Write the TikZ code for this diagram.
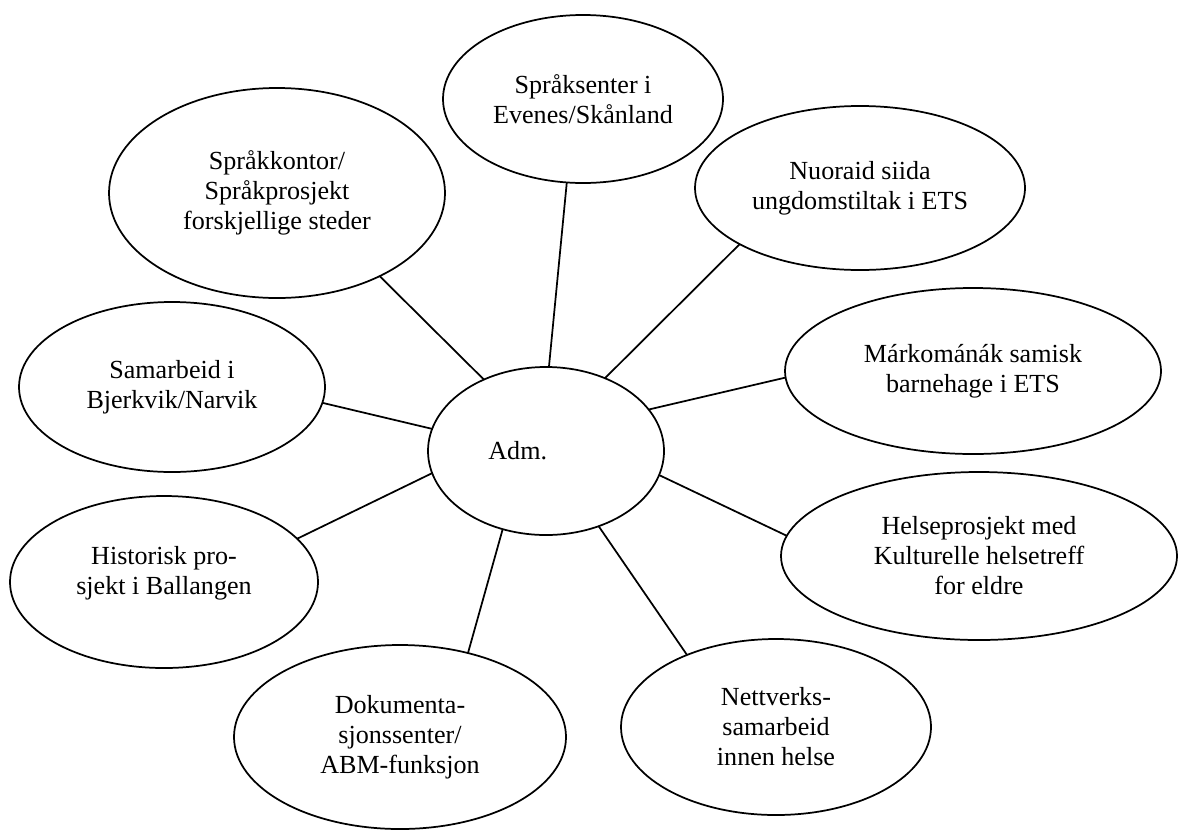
\documentclass[tikz,border=0pt]{standalone}
\usepackage{fontspec}
\setmainfont{Liberation Serif}
\usetikzlibrary{shapes.geometric}

\tikzset{
  bubble/.style={ellipse, draw, line width=0.8pt, inner sep=0pt, outer sep=0pt,
    align=center, font=\fontsize{12}{13.8}\selectfont},
  bsize/.style 2 args={minimum width=#1*0.46pt, minimum height=#2*0.46pt},
  link/.style={line width=0.8pt}
}

\begin{document}
\begin{tikzpicture}[x=0.46pt,y=-0.46pt]
    \useasboundingbox (0,0) rectangle (1178,830);

    % Midten
    \node[bubble, bsize={236}{168}] (adm) at (546,451) {Adm.\hspace*{26pt}};

    % Bobler rundt
    \node[bubble, bsize={280}{168}] (senter) at (583,99) {Språksenter i\\Evenes/Skånland};
    \node[bubble, bsize={336}{210}] (kontor) at (277,193) {Språkkontor/\\Språkprosjekt\\forskjellige steder};
    \node[bubble, bsize={330}{164}] (nuoraid) at (860,188) {Nuoraid siida\\ungdomstiltak i ETS};
    \node[bubble, bsize={376}{166}] (barnehage) at (973,371) {Márkománák samisk\\barnehage i ETS};
    \node[bubble, bsize={396}{168}] (helse) at (979,556) {Helseprosjekt med\\Kulturelle helsetreff\\for eldre};
    \node[bubble, bsize={310}{176}] (nettverk) at (776,727) {Nettverks-\\samarbeid\\innen helse};
    \node[bubble, bsize={332}{184}] (dok) at (400,737) {Dokumenta-\\sjonssenter/\\ABM-funksjon};
    \node[bubble, bsize={308}{172}] (historisk) at (164,582) {Historisk pro-\\sjekt i Ballangen\\[-3pt]};
    \node[bubble, bsize={306}{170}] (samarbeid) at (172,387) {Samarbeid i\\Bjerkvik/Narvik};

    % Linjer
    \foreach \a/\n/\b in {88.6/senter/-101.2, 131.7/kontor/-39.5, 51.9/nuoraid/-155.6,
        22.3/barnehage/182.7, -12.8/helse/174.3, -55.4/nettverk/141.7,
        -119.8/dok/51.6, 191.6/historisk/18.7, 169.1/samarbeid/-6} {
      \draw[link] (adm.\a) -- (\n.\b);
    }
  \end{tikzpicture}
\end{document}
